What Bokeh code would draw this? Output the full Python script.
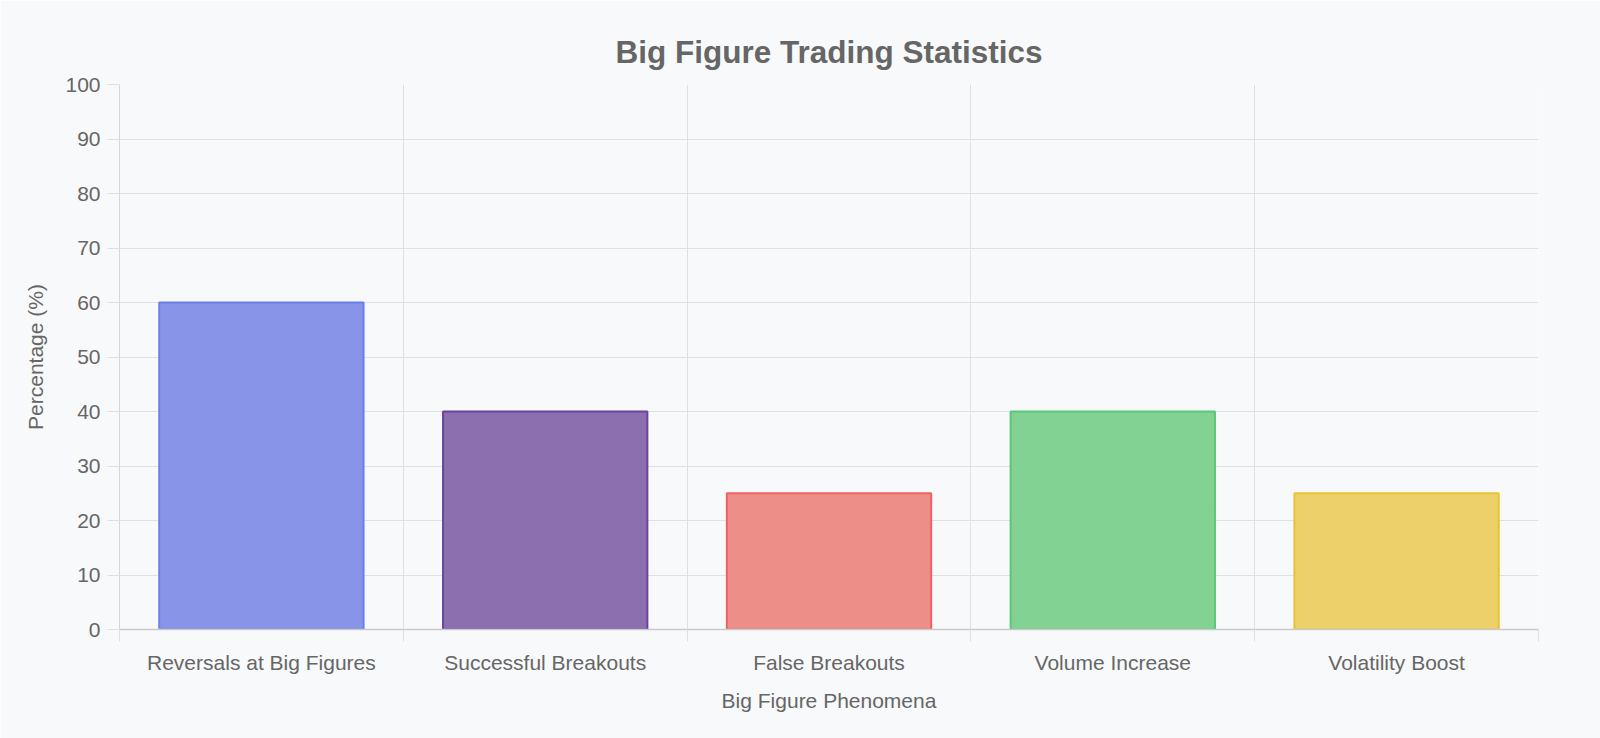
import numpy as np
from bokeh.plotting import figure
from bokeh.models import ColumnDataSource, FixedTicker, Range1d
from bokeh.embed import file_html
from bokeh.resources import INLINE

categories = ["Reversals at Big Figures", "Successful Breakouts", "False Breakouts",
              "Volume Increase", "Volatility Boost"]
values = [60, 40, 25, 40, 25]
fill_colors = ["#8794e8", "#8b6fae", "#ee8e88", "#82d293", "#ecd06a"]
line_colors = ["#6b7fe8", "#6a43a0", "#ef6262", "#5cc776", "#ecc232"]
y_ticks = list(range(0, 101, 10))

FONT = "Liberation Sans"
TXT = "#666666"
BG = "#f8f9fa"
GRID = "#dfe0e3"

n = len(categories)
xs = np.arange(n) + 0.5
src = ColumnDataSource(dict(x=xs, top=values, fill=fill_colors, line=line_colors))

p = figure(width=1600, height=738, output_backend="svg", toolbar_location=None,
           x_range=Range1d(0, n), y_range=Range1d(0, 100),
           min_border_left=119, min_border_right=62, min_border_top=84, min_border_bottom=109,
           title="Big Figure Trading Statistics")
p.background_fill_color = BG
p.border_fill_color = BG
p.outline_line_color = None

p.title.align = "center"
p.title.text_font = FONT
p.title.text_font_size = "31.5px"
p.title.text_font_style = "bold"
p.title.text_color = TXT
p.title.standoff = 29

p.vbar(x="x", top="top", width=0.72, bottom=0, source=src,
       fill_color="fill", line_color="line", line_width=2)

xa = p.xaxis[0]
xa.ticker = FixedTicker(ticks=list(xs), minor_ticks=list(range(n + 1)))
xa.major_label_overrides = {float(x): c for x, c in zip(xs, categories)}
xa.major_tick_out = 0
xa.major_tick_in = 0
xa.minor_tick_out = 12
xa.minor_tick_in = 0
xa.minor_tick_line_color = GRID
xa.axis_line_color = "#c9cacd"
xa.axis_line_width = 1.5
xa.major_label_text_font = FONT
xa.major_label_text_font_size = "21px"
xa.major_label_text_color = TXT
xa.major_label_standoff = 9
xa.axis_label = "Big Figure Phenomena"
xa.axis_label_text_font = FONT
xa.axis_label_text_font_size = "21px"
xa.axis_label_text_font_style = "normal"
xa.axis_label_text_color = TXT
xa.axis_label_standoff = 12

ya = p.yaxis[0]
ya.ticker = FixedTicker(ticks=y_ticks)
ya.major_tick_out = 12
ya.major_tick_in = 0
ya.minor_tick_line_color = None
ya.major_tick_line_color = GRID
ya.axis_line_color = "#d4d5d8"
ya.major_label_text_font = FONT
ya.major_label_text_font_size = "21px"
ya.major_label_text_color = TXT
ya.major_label_standoff = 7
ya.axis_label = "Percentage (%)"
ya.axis_label_text_font = FONT
ya.axis_label_text_font_size = "21px"
ya.axis_label_text_font_style = "normal"
ya.axis_label_text_color = TXT
ya.axis_label_standoff = 15

p.xgrid.grid_line_color = None
p.xgrid.minor_grid_line_color = GRID
p.ygrid.grid_line_color = GRID

open("out.html", "w").write(file_html(p, INLINE))
